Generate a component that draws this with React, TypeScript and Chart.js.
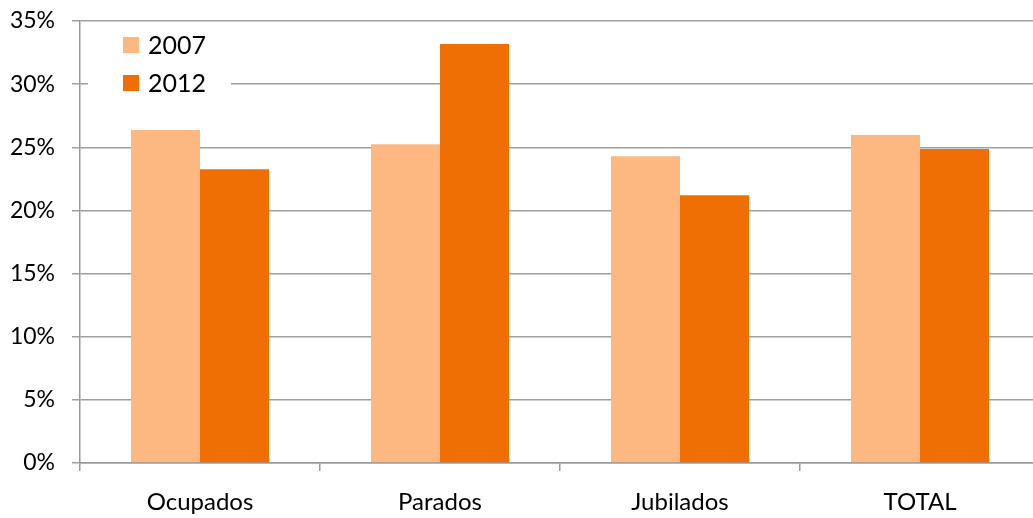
import React, { useEffect, useRef } from "react";
import { Chart, registerables } from "chart.js";

Chart.register(...registerables);

const categories = ["Ocupados", "Parados", "Jubilados", "TOTAL"];
const series2007 = [26.36, 25.25, 24.3, 25.97];
const series2012 = [23.27, 33.18, 21.21, 24.86];
const seriesLabels = ["2007", "2012"];
const seriesColors = ["#FDB882", "#F06F04"];

const FONT = "Lato, 'Open Sans', sans-serif";

const legendPlugin = {
  id: "insideLegend",
  afterDraw(chart: any) {
    const ctx = chart.ctx;
    const area = chart.chartArea;
    ctx.save();
    ctx.fillStyle = "#ffffff";
    ctx.fillRect(area.left + 8, area.top + 4, 143, 92);
    const ds = chart.data.datasets;
    ds.forEach((d: any, i: number) => {
      const y = area.top + 24 + i * 38;
      ctx.fillStyle = d.backgroundColor;
      ctx.fillRect(area.left + 43, y - 8, 16, 16);
      ctx.fillStyle = "#000";
      ctx.font = "25px " + FONT;
      ctx.textBaseline = "middle";
      ctx.textAlign = "left";
      ctx.fillText(d.label, area.left + 68, y + 1);
    });
    ctx.restore();
  },
};

export default function App() {
  const ref = useRef<HTMLCanvasElement | null>(null);
  useEffect(() => {
    if (!ref.current) return;
    const chart = new Chart(ref.current, {
      type: "bar",
      data: {
        labels: categories,
        datasets: [
          { label: seriesLabels[0], data: series2007, backgroundColor: seriesColors[0] },
          { label: seriesLabels[1], data: series2012, backgroundColor: seriesColors[1] },
        ],
      },
      options: {
        animation: false,
        responsive: true,
        maintainAspectRatio: false,
        layout: { padding: { top: 21, right: 0, left: 0, bottom: 0 } },
        datasets: { bar: { categoryPercentage: 0.575, barPercentage: 1 } },
        plugins: { legend: { display: false }, tooltip: { enabled: false } },
        scales: {
          x: {
            offset: true,
            grid: {
              offset: true,
              drawOnChartArea: false,
              drawTicks: true,
              tickLength: 8,
              color: "#999",
              lineWidth: 1.5,
            },
            border: { color: "#999", width: 1.5 },
            ticks: { color: "#000", font: { family: FONT, size: 24 }, padding: 17 },
            afterFit(scale: any) {
              scale.height = 55;
              scale.paddingLeft = 0;
              scale.paddingRight = 0;
            },
          },
          y: {
            min: 0,
            max: 35,
            ticks: {
              stepSize: 5,
              color: "#000",
              font: { family: FONT, size: 23 },
              padding: 17,
              callback: (v: any) => v + "%",
            },
            grid: { color: "#a0a0a0", lineWidth: 1.5, tickLength: 8, drawTicks: true },
            border: { color: "#999", width: 1.5 },
            afterFit(scale: any) {
              scale.width = 80;
              scale.paddingTop = 0;
              scale.paddingBottom = 0;
            },
          },
        },
      },
      plugins: [legendPlugin],
    });
    return () => chart.destroy();
  }, []);
  return (
    <div style={{ position: "fixed", left: 0, top: 0, width: 1033, height: 518, overflow: "hidden", background: "#fff" }}>
      <div style={{ position: "relative", width: 1040, height: 518 }}>
        <canvas ref={ref} />
      </div>
    </div>
  );
}
